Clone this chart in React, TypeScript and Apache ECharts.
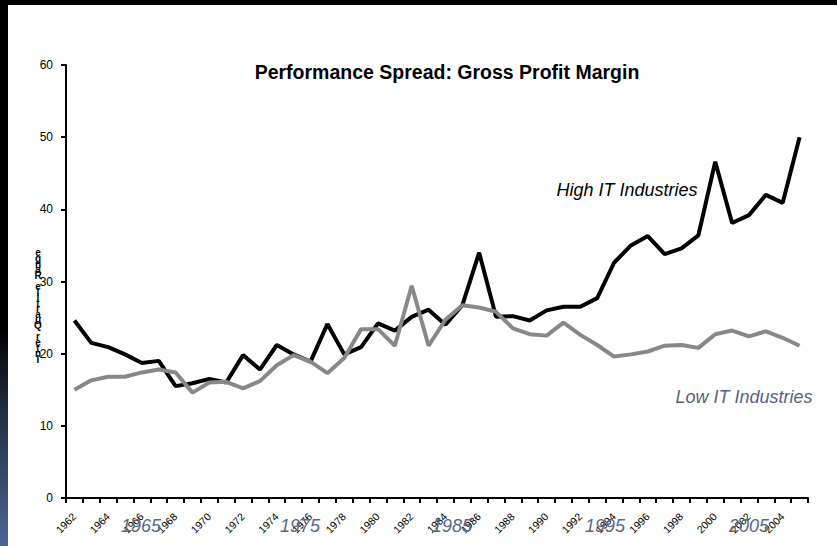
import React, { useEffect, useRef } from "react";
import * as echarts from "echarts";

const years: string[] = [];
for (let y = 1962; y <= 2005; y++) years.push(String(y));

const highIT = [
  24.6, 21.5, 20.9, 19.9, 18.7, 19.0, 15.5, 15.9, 16.5, 16.0,
  19.8, 17.8, 21.2, 19.9, 18.9, 24.1, 19.9, 20.9, 24.2, 23.2,
  25.1, 26.1, 24.0, 26.7, 34.0, 25.1, 25.2, 24.6, 26.0, 26.5,
  26.5, 27.7, 32.6, 35.0, 36.3, 33.8, 34.6, 36.4, 46.6, 38.1,
  39.2, 42.0, 40.9, 50.0,
];

const lowIT = [
  15.0, 16.3, 16.8, 16.8, 17.4, 17.8, 17.4, 14.6, 16.0, 16.1,
  15.2, 16.2, 18.4, 19.8, 18.9, 17.3, 19.4, 23.4, 23.4, 21.1,
  29.4, 21.1, 24.7, 26.7, 26.4, 25.8, 23.5, 22.7, 22.5, 24.3,
  22.6, 21.2, 19.6, 19.9, 20.3, 21.1, 21.2, 20.8, 22.7, 23.2,
  22.4, 23.1, 22.2, 21.1,
];

const decadeLabels = ["1965", "1975", "1985", "1995", "2005"];
const decadeX = [141, 300, 452, 605, 749];

const titleText = "Performance Spread: Gross Profit Margin";
const yTitle = "Inter Quartile Range";

export default function App() {
  const ref = useRef<HTMLDivElement>(null);
  useEffect(() => {
    document.body.style.margin = "0";
    document.body.style.background = "#ffffff";
    document.documentElement.style.background = "#ffffff";
    const chart = echarts.init(ref.current!, undefined, { renderer: "svg" });
    const font = "Liberation Sans";
    const yTitleStacked = yTitle.split("").reverse().join("\n");
    chart.setOption({
      animation: false,
      backgroundColor: "#ffffff",
      grid: { left: 66, right: 29, top: 65, bottom: 48, containLabel: false },
      xAxis: {
        type: "category",
        data: years,
        boundaryGap: true,
        axisLine: { lineStyle: { color: "#000", width: 2 } },
        axisTick: { show: true, interval: 0, length: 5, lineStyle: { color: "#000", width: 2 } },
        axisLabel: {
          interval: 1,
          rotate: 45,
          fontSize: 10.5,
          color: "#000",
          fontFamily: font,
          margin: 17,
        },
        splitLine: { show: false },
      },
      yAxis: {
        type: "value",
        min: 0,
        max: 60,
        interval: 10,
        axisLine: { show: true, lineStyle: { color: "#000", width: 2 } },
        axisTick: { show: true, length: 5, lineStyle: { color: "#000", width: 2 } },
        axisLabel: { fontSize: 12, color: "#000", fontFamily: font, margin: 13 },
        splitLine: { show: false },
      },
      series: [
        {
          name: "High IT Industries",
          type: "line",
          data: highIT,
          symbol: "none",
          lineStyle: { color: "#000000", width: 4 },
          z: 3,
        },
        {
          name: "Low IT Industries",
          type: "line",
          data: lowIT,
          symbol: "none",
          lineStyle: { color: "#888888", width: 4 },
          z: 4,
        },
      ],
      graphic: [
        { type: "rect", shape: { x: 0, y: 0, width: 837, height: 5 }, style: { fill: "#000" }, z: 100 },
        {
          type: "rect",
          shape: { x: 0, y: 0, width: 8, height: 546 },
          style: {
            fill: new echarts.graphic.LinearGradient(0, 0, 0, 1, [
              { offset: 0, color: "#000000" },
              { offset: 0.6, color: "#000000" },
              { offset: 0.75, color: "#222d42" },
              { offset: 1, color: "#4d6597" },
            ]),
          },
          z: 100,
        },
        {
          type: "text",
          x: 447,
          y: 72,
          style: {
            text: titleText,
            font: `bold 19.5px "${font}"`,
            fill: "#000",
            textAlign: "center",
            textVerticalAlign: "middle",
          },
        },
        {
          type: "text",
          x: 627,
          y: 190,
          style: {
            text: "High IT Industries",
            font: `italic 18px "${font}"`,
            fill: "#000",
            textAlign: "center",
            textVerticalAlign: "middle",
          },
        },
        {
          type: "text",
          x: 744,
          y: 397,
          style: {
            text: "Low IT Industries",
            font: `italic 18px "${font}"`,
            fill: "#56627e",
            textAlign: "center",
            textVerticalAlign: "middle",
          },
        },
        {
          type: "text",
          x: 38,
          y: 250,
          style: {
            text: yTitleStacked,
            font: `bold 10px "${font}"`,
            lineHeight: 5.6,
            fill: "#000",
            textAlign: "center",
            textVerticalAlign: "top",
          },
        },
        ...decadeLabels.map((t, i) => ({
          type: "text",
          x: decadeX[i],
          y: 526,
          style: {
            text: t,
            font: `italic 18px "${font}"`,
            fill: "#5a6885",
            textAlign: "center",
            textVerticalAlign: "middle",
          },
          z: 50,
        })),
      ],
    });
    return () => chart.dispose();
  }, []);
  return (
    <div
      ref={ref}
      style={{ position: "fixed", left: 0, top: 0, width: 837, height: 546, background: "#fff" }}
    />
  );
}
